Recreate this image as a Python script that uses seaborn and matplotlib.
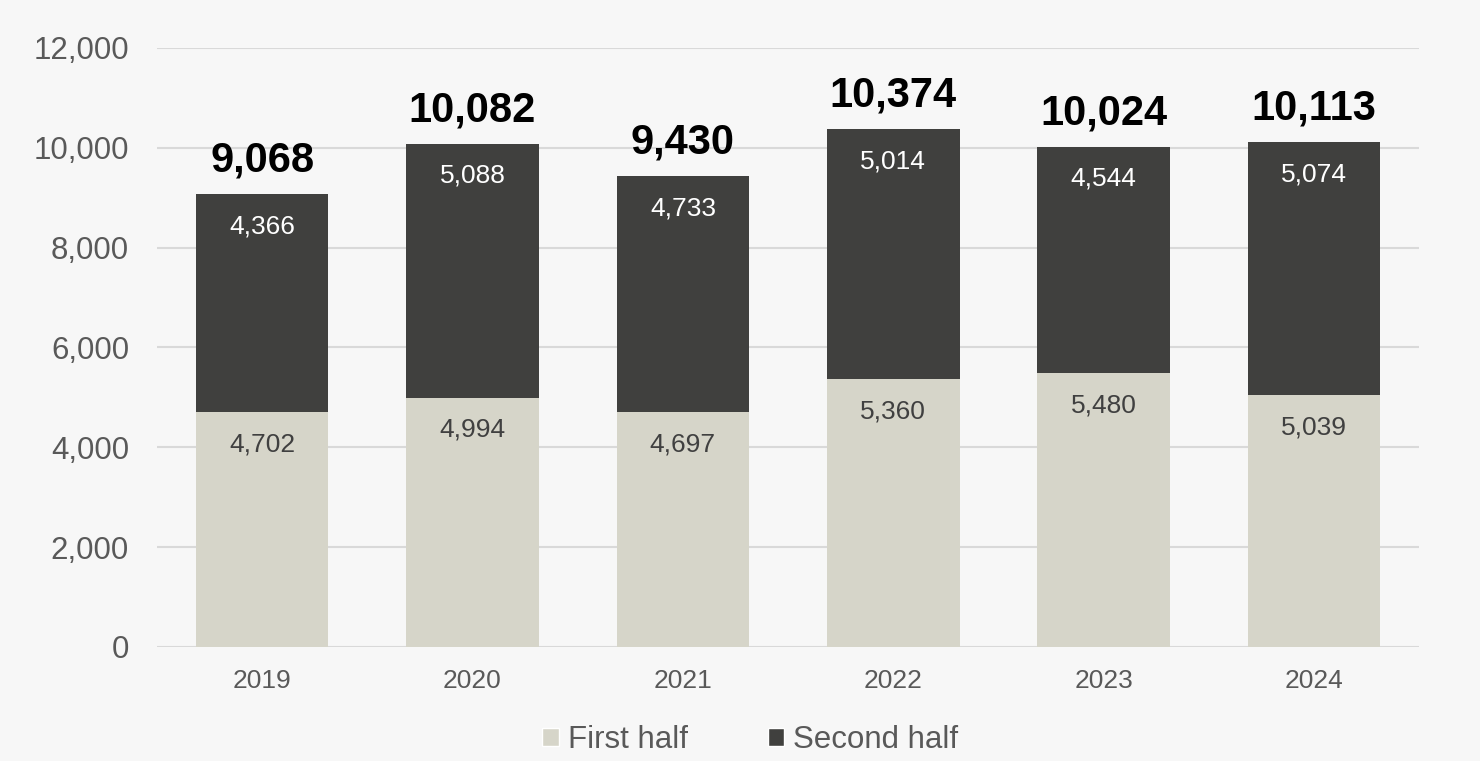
import matplotlib
matplotlib.use("Agg")
import matplotlib.pyplot as plt
import seaborn as sns
import pandas as pd
from matplotlib.patches import Patch

years = ["2019", "2020", "2021", "2022", "2023", "2024"]
first_half = [4702, 4994, 4697, 5360, 5480, 5039]
second_half = [4366, 5088, 4733, 5014, 4544, 5074]
totals = [a + b for a, b in zip(first_half, second_half)]
yticks = [0, 2000, 4000, 6000, 8000, 10000, 12000]

C_FIRST = "#D6D5C9"
C_SECOND = "#40403E"
BG = "#F7F7F7"

sns.set_theme(style="white")
plt.rcParams['font.family'] = ['Liberation Sans', 'DejaVu Sans']

df = pd.DataFrame({"year": years, "first": first_half, "second": second_half, "total": totals})

fig = plt.figure(figsize=(14.8, 7.61), dpi=100, facecolor=BG)
ax = fig.add_axes([0.106, 0.150, 0.853, 0.787])
ax.set_facecolor(BG)

sns.barplot(data=df, x="year", y="total", color=C_SECOND, width=0.63, ax=ax,
            saturation=1, linewidth=0, zorder=3)
sns.barplot(data=df, x="year", y="first", color=C_FIRST, width=0.63, ax=ax,
            saturation=1, linewidth=0, zorder=4)

ax.set_ylim(0, 12000)
ax.set_xlim(-0.5, 5.5)
ax.set_yticks(yticks)
ax.set_yticklabels([f"{v:,}" for v in yticks], fontsize=22.5, color="#595959")
ax.set_xticklabels(years, fontsize=19, color="#595959")
ax.tick_params(axis="both", length=0)
ax.tick_params(axis="y", pad=20)
ax.tick_params(axis="x", pad=16)
ax.set_xlabel("")
ax.set_ylabel("")
ax.yaxis.grid(True, color="#D9D9D9", linewidth=1.5, zorder=0)
ax.set_axisbelow(True)
for s in ax.spines.values():
    s.set_visible(False)

for i in range(len(years)):
    ax.annotate(f"{first_half[i]:,}", (i, first_half[i]), xytext=(0, -23),
                textcoords="offset points", ha="center", va="center",
                fontsize=19, color="#404040", zorder=5)
    ax.annotate(f"{second_half[i]:,}", (i, totals[i]), xytext=(0, -23),
                textcoords="offset points", ha="center", va="center",
                fontsize=19, color="white", zorder=5)
    ax.annotate(f"{totals[i]:,}", (i, totals[i]), xytext=(0, 24),
                textcoords="offset points", ha="center", va="center",
                fontsize=30, fontweight="bold", color="black", zorder=5)

handles = [Patch(facecolor=C_FIRST, label="First half"),
           Patch(facecolor=C_SECOND, label="Second half")]
leg = fig.legend(handles=handles, loc="center", bbox_to_anchor=(0.507, 0.028), ncol=2,
                 frameon=False, fontsize=22.5, handlelength=0.52, handleheight=0.52,
                 handletextpad=0.3, columnspacing=2.55, labelcolor="#595959")

fig.savefig("out.png", dpi=100, facecolor=BG)
